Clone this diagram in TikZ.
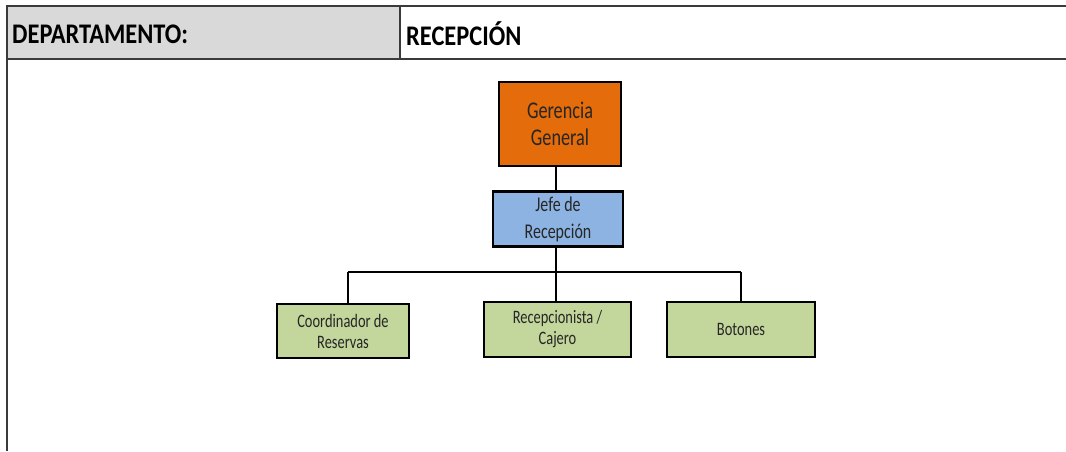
\documentclass[tikz,border=0pt]{standalone}
\usepackage{fontspec}
\setmainfont{Carlito}
\newfontfamily\hdrfont[FakeStretch=0.86]{Carlito}
\newfontfamily\boxfont[FakeStretch=0.76]{Carlito}
\definecolor{hdrgray}{HTML}{D9D9D9}
\definecolor{rule}{HTML}{3A3A3A}
\definecolor{orangebox}{HTML}{E46C0A}
\definecolor{bluebox}{HTML}{8DB3E2}
\definecolor{greenbox}{HTML}{C3D69B}
\definecolor{ink}{HTML}{262626}
\begin{document}
\begin{tikzpicture}[x=1pt,y=-1pt,
  orgbox/.style={draw=black, line width=2.6pt, align=center, inner sep=0pt, text=ink},
  link/.style={draw=black, line width=2.2pt},
  hdrtext/.style={anchor=west, font=\hdrfont\fontsize{28.4}{32}\selectfont\bfseries, inner sep=0pt, text=black}]
  \useasboundingbox (0,0) rectangle (1066,451);
  % header row
  \fill[hdrgray] (7,6) rectangle (400,59);
  \draw[rule, line width=1.8pt] (1066,6) -- (7,6) -- (7,451);
  \draw[rule, line width=1.8pt] (7,59) -- (1066,59);
  \draw[rule, line width=1.2pt] (400,6) -- (400,59);
  \node[hdrtext] (dept) at (12,34) {DEPARTAMENTO:};
  \node[hdrtext] (deptval) at (406,34) {RECEPCIÓN};
  % organisation chart
  \node[orgbox, fill=orangebox, minimum width=122pt, minimum height=84pt,
        font=\boxfont\fontsize{24}{27}\selectfont] (ger) at (560,124) {Gerencia\\General};
  \node[orgbox, fill=bluebox, minimum width=130pt, minimum height=55pt,
        font=\boxfont\fontsize{21}{27}\selectfont] (jefe) at (558,219) {Jefe de\\Recepción};
  \node[orgbox, fill=greenbox, minimum width=132pt, minimum height=54pt,
        font=\boxfont\fontsize{19}{21}\selectfont] (coord) at (343,331) {Coordinador de\\Reservas};
  \node[orgbox, fill=greenbox, minimum width=147pt, minimum height=55pt,
        font=\boxfont\fontsize{19}{21}\selectfont] (recep) at (557.5,329.5) {Recepcionista /\\Cajero};
  \node[orgbox, fill=greenbox, minimum width=148pt, minimum height=55pt,
        font=\boxfont\fontsize{19}{21}\selectfont] (bot) at (741,329.5) {Botones};
  % connectors
  \coordinate (bus) at (556,272);
  \coordinate (busL) at (348,272);
  \coordinate (busR) at (741,272);
  \draw[link] (ger.south -| bus) -- (jefe.north -| bus);
  \draw[link] (jefe.south -| bus) -- (bus);
  \draw[link] (busL) -- (busR);
  \draw[link] (busL) -- (coord.north -| busL);
  \draw[link] (bus) -- (recep.north -| bus);
  \draw[link] (busR) -- (bot.north);
\end{tikzpicture}
\end{document}
